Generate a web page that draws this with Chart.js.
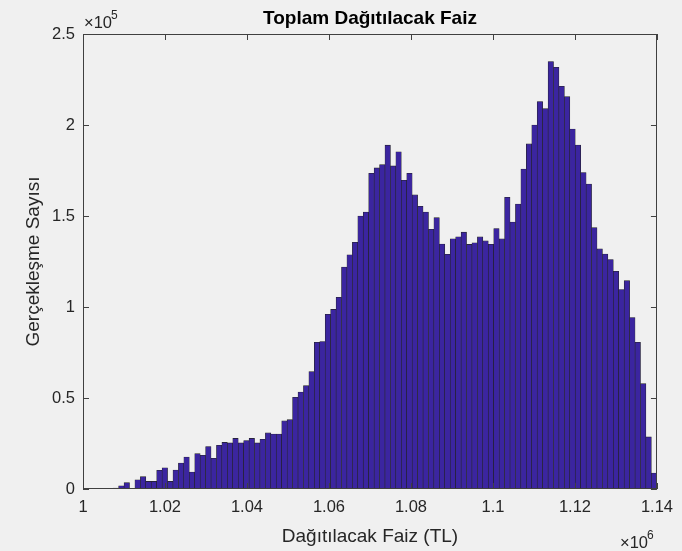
<!DOCTYPE html>
<html>
<head>
<meta charset="utf-8">
<script src="https://cdn.jsdelivr.net/npm/chart.js@4.4.1/dist/chart.umd.min.js"></script>
<style>
  html, body { margin: 0; padding: 0; background: #f0f0f0; }
  #wrap { width: 682px; height: 551px; }
</style>
</head>
<body>
<div id="wrap"><canvas id="histChart" width="682" height="551"></canvas></div>
<script>
// histogram of simulated total interest, 100 bins
const titleText = 'Toplam Dağıtılacak Faiz';
const xLabel = 'Dağıtılacak Faiz (TL)';
const yLabel = 'Gerçekleşme Sayısı';

const binStart = 1007365;
const binWidth = 1326;
const counts = [
  550, 1800, 3500, 400, 5100, 6800, 4200, 4200, 10300, 11700,
  4200, 10400, 14300, 17600, 9300, 19400, 18500, 23300, 16900, 24000,
  25600, 25300, 27800, 25300, 26600, 27800, 25300, 27300, 30800, 30200,
  30200, 37400, 38100, 50400, 53300, 56800, 64500, 80600, 81000, 96000,
  98700, 105300, 122000, 128700, 135600, 150000, 152200, 173500, 176400, 178200,
  188900, 177500, 185300, 169600, 173500, 161600, 155300, 152200, 142700, 149100,
  134600, 129000, 137500, 138600, 141100, 134400, 135300, 138500, 136300, 134500,
  143100, 137400, 160300, 146700, 156600, 175800, 189600, 200000, 212900, 209000,
  234900, 231700, 221300, 215600, 197800, 189000, 173900, 167600, 143600, 131900,
  129100, 126100, 119600, 109600, 114500, 94200, 80600, 57900, 28600, 8800
];
const xTicks = [1000000, 1020000, 1040000, 1060000, 1080000, 1100000, 1120000, 1140000];
const yTicks = [0, 50000, 100000, 150000, 200000, 250000];

const textColor = '#262626';
const fontFam = '"Liberation Sans", Arial, Helvetica, sans-serif';

const points = counts.map((c, i) => ({ x: binStart + binWidth * (i + 0.5), y: c }));

// box, inward ticks, titles and exponent labels (matlab style)
const matlabAxes = {
  id: 'matlabAxes',
  afterDraw(chart) {
    const { ctx, chartArea: a, scales } = chart;
    const xs = scales.x, ys = scales.y;
    ctx.save();
    ctx.strokeStyle = '#404040';
    ctx.lineWidth = 1;
    ctx.strokeRect(Math.round(a.left) + 0.5, Math.round(a.top) + 0.5,
      Math.round(a.right - a.left) - 1, Math.round(a.bottom - a.top) - 1);
    ctx.beginPath();
    const tl = 6;
    xTicks.forEach(v => {
      const px = Math.round(xs.getPixelForValue(v)) + 0.5;
      ctx.moveTo(px, a.bottom); ctx.lineTo(px, a.bottom - tl);
      ctx.moveTo(px, a.top); ctx.lineTo(px, a.top + tl);
    });
    yTicks.forEach(v => {
      const py = Math.round(ys.getPixelForValue(v)) + 0.5;
      ctx.moveTo(a.left, py); ctx.lineTo(a.left + tl, py);
      ctx.moveTo(a.right, py); ctx.lineTo(a.right - tl, py);
    });
    ctx.stroke();

    ctx.fillStyle = '#000';
    ctx.font = 'bold 19px ' + fontFam;
    ctx.textAlign = 'center';
    ctx.textBaseline = 'middle';
    ctx.fillText(titleText, (a.left + a.right) / 2, 19);

    ctx.fillStyle = textColor;
    ctx.font = '19px ' + fontFam;
    ctx.fillText(xLabel, (a.left + a.right) / 2, 537);
    ctx.save();
    ctx.translate(34, (a.top + a.bottom) / 2);
    ctx.rotate(-Math.PI / 2);
    ctx.fillText(yLabel, 0, 0);
    ctx.restore();

    // exponent labels
    ctx.textAlign = 'left';
    ctx.textBaseline = 'alphabetic';
    ctx.font = '16.5px ' + fontFam;
    ctx.fillText('\u00d710', 84, 28);
    ctx.font = '12px ' + fontFam;
    ctx.fillText('5', 111, 19);
    ctx.font = '16.5px ' + fontFam;
    ctx.fillText('\u00d710', 620, 548);
    ctx.font = '12px ' + fontFam;
    ctx.fillText('6', 647, 539);
    ctx.restore();
  }
};

new Chart(document.getElementById('histChart').getContext('2d'), {
  type: 'bar',
  data: {
    datasets: [{
      data: points,
      backgroundColor: '#3b25a0',
      borderColor: '#222222',
      borderWidth: 0.6,
      borderSkipped: false,
      barPercentage: 1,
      categoryPercentage: 1
    }]
  },
  options: {
    responsive: false,
    animation: false,
    layout: { padding: { top: 34, right: 23, left: 0, bottom: 0 } },
    plugins: { legend: { display: false }, tooltip: { enabled: false }, title: { display: false } },
    scales: {
      x: {
        type: 'linear',
        offset: false,
        min: 1000000,
        max: 1140000,
        afterBuildTicks: s => { s.ticks = xTicks.map(v => ({ value: v })); },
        afterFit: s => { s.height = 62; },
        grid: { display: false, drawTicks: false, offset: false },
        border: { display: false },
        ticks: {
          maxRotation: 0,
          autoSkip: false,
          padding: 9,
          color: textColor,
          font: { family: fontFam, size: 16.5 },
          callback: v => parseFloat((v / 1e6).toFixed(2)).toString()
        }
      },
      y: {
        min: 0,
        max: 250000,
        afterBuildTicks: s => { s.ticks = yTicks.map(v => ({ value: v })); },
        afterFit: s => { s.width = 83; },
        grid: { display: false, drawTicks: false },
        border: { display: false },
        ticks: {
          padding: 8,
          color: textColor,
          font: { family: fontFam, size: 16.5 },
          callback: v => (v / 1e5).toString()
        }
      }
    }
  },
  plugins: [matlabAxes]
});
</script>
</body>
</html>
